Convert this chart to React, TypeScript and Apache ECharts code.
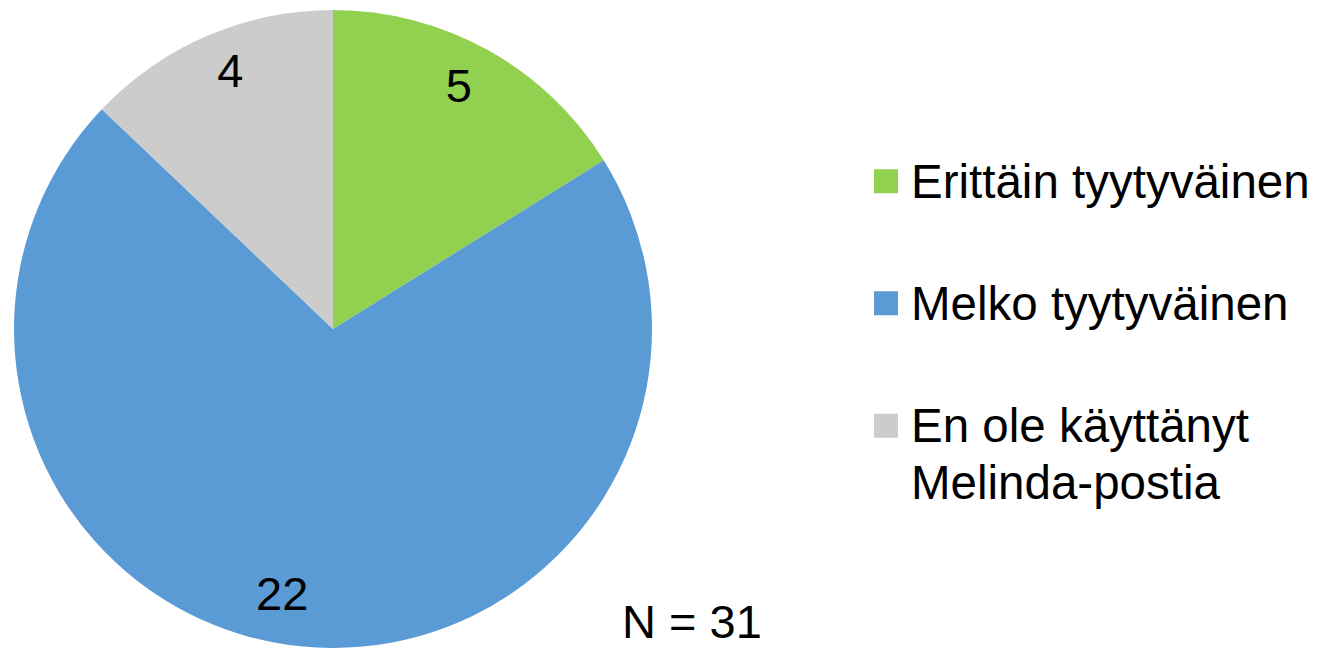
import React, { useEffect, useRef } from "react";
import * as echarts from "echarts";

const categories = ["Erittäin tyytyväinen", "Melko tyytyväinen", "En ole käyttänyt Melinda-postia"];
const values = [5, 22, 4];
const colors = ["#92D050", "#5B9BD5", "#CCCCCC"];
const legendLabels = ["Erittäin tyytyväinen", "Melko tyytyväinen", " \nEn ole käyttänyt\nMelinda-postia"];
const noteText = "N = 31";
const labelShift = [[-8, -3], [-23, -10], [6, -5]];

const FONT = "Arial, 'Liberation Sans', sans-serif";

export default function App() {
  const ref = useRef<HTMLDivElement>(null);
  useEffect(() => {
    document.body.style.margin = "0";
    if (!ref.current) return;
    const chart = echarts.init(ref.current, undefined, { renderer: "svg" });
    const data = categories.map((name, i) => ({ name, value: values[i], itemStyle: { color: colors[i] } }));
    const legendTops = [153, 275, 341];
    const legends = categories.map((name, i) => ({
      show: true,
      orient: "vertical",
      left: 874,
      top: legendTops[i],
      padding: 0,
      icon: "rect",
      itemWidth: 24,
      itemHeight: 24,
      itemGap: 0,
      selectedMode: false,
      data: [name],
      formatter: () => legendLabels[i],
      textStyle: { fontFamily: FONT, fontSize: 47.5, lineHeight: 56.5, color: "#000", padding: [0, 0, 0, 8] },
    }));
    chart.setOption({
      animation: false,
      backgroundColor: "#fff",
      legend: legends,
      graphic: [
        {
          type: "text",
          left: 622,
          top: 598,
          style: { text: noteText, fontFamily: FONT, fontSize: 47, fill: "#000" },
        },
      ],
      series: [
        {
          type: "pie",
          center: [333, 329],
          radius: [0, 319],
          startAngle: 90,
          clockwise: true,
          label: { show: false },
          labelLine: { show: false },
          emphasis: { disabled: true },
          data,
        },
        {
          type: "pie",
          center: [333, 329],
          radius: [226, 319],
          startAngle: 90,
          clockwise: true,
          silent: true,
          itemStyle: { color: "rgba(0,0,0,0)" },
          label: {
            show: true,
            position: "inside",
            formatter: "{c}",
            fontFamily: FONT,
            fontSize: 47,
            color: "#000",
          },
          labelLayout: (p: any) => ({ dx: labelShift[p.dataIndex][0], dy: labelShift[p.dataIndex][1] }),
          labelLine: { show: false },
          emphasis: { disabled: true },
          data: categories.map((name, i) => ({ name, value: values[i], itemStyle: { color: "rgba(0,0,0,0)" } })),
        },
      ],
    });
    return () => chart.dispose();
  }, []);
  return <div ref={ref} style={{ width: 1322, height: 648 }} />;
}
